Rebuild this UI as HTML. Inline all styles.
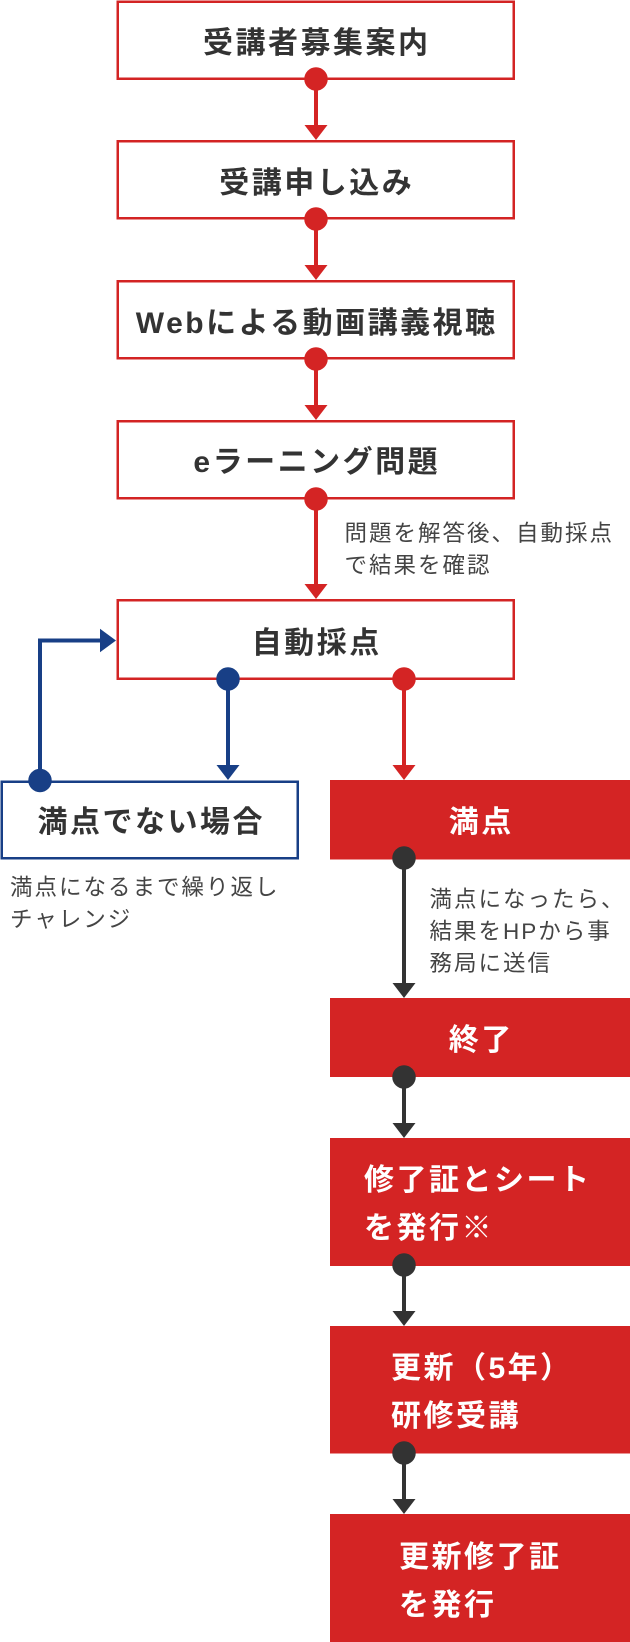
<!DOCTYPE html>
<html><head><meta charset="utf-8">
<style>
html,body{margin:0;padding:0;background:#fff;}
body{width:630px;height:1642px;position:relative;overflow:hidden;font-family:"Liberation Sans","Noto Sans CJK JP",sans-serif;}
svg{position:absolute;left:0;top:0;}
.t{position:absolute;white-space:nowrap;}
.m{font-size:30px;font-weight:700;color:#333;letter-spacing:2.5px;line-height:40px;text-align:center;}
.m span{margin-right:-2.5px;}
.w{color:#fff;}
.ml{font-size:30px;font-weight:700;color:#fff;letter-spacing:2.5px;line-height:48px;}
.s{font-size:22.5px;font-weight:400;color:#444;letter-spacing:2px;line-height:32px;}
.thin{font-weight:400;}
</style></head>
<body>
<svg width="630" height="1642" viewBox="0 0 630 1642" xmlns="http://www.w3.org/2000/svg">
  <g fill="#fff" stroke="#d32424" stroke-width="2.5">
    <rect x="117.75" y="1.75" width="396" height="77"/>
    <rect x="117.75" y="141.25" width="396" height="77"/>
    <rect x="117.75" y="281.25" width="396" height="77"/>
    <rect x="117.75" y="421.25" width="396" height="77"/>
    <rect x="117.75" y="600.25" width="396" height="78.5"/>
  </g>
  <rect x="1.75" y="781.75" width="296" height="76.5" fill="#fff" stroke="#183f86" stroke-width="2.5"/>
  <g fill="#d42424">
    <rect x="330" y="780" width="300" height="79.5"/>
    <rect x="330" y="998" width="300" height="79"/>
    <rect x="330" y="1138" width="300" height="128"/>
    <rect x="330" y="1326" width="300" height="127.5"/>
    <rect x="330" y="1514" width="300" height="128"/>
  </g>
  <g stroke="#d42424" stroke-width="4" fill="none">
    <line x1="316" y1="79" x2="316" y2="126"/>
    <line x1="316" y1="219" x2="316" y2="266"/>
    <line x1="316" y1="359" x2="316" y2="406"/>
    <line x1="316" y1="499" x2="316" y2="585"/>
    <line x1="404" y1="679" x2="404" y2="766"/>
  </g>
  <g fill="#d42424">
    <circle cx="316" cy="79" r="11.75"/>
    <circle cx="316" cy="219" r="11.75"/>
    <circle cx="316" cy="359" r="11.75"/>
    <circle cx="316" cy="499" r="11.75"/>
    <circle cx="404" cy="679" r="11.75"/>
    <polygon points="304.5,125 327.5,125 316,140"/>
    <polygon points="304.5,265 327.5,265 316,280"/>
    <polygon points="304.5,405 327.5,405 316,420"/>
    <polygon points="304.5,584 327.5,584 316,599"/>
    <polygon points="392.5,765 415.5,765 404,780"/>
  </g>
  <g stroke="#183f86" stroke-width="4" fill="none">
    <line x1="228" y1="679" x2="228" y2="766"/>
    <polyline points="40,780.5 40,640.5 101,640.5" stroke-linejoin="miter"/>
  </g>
  <g fill="#183f86">
    <circle cx="228" cy="679" r="11.75"/>
    <circle cx="40" cy="780.5" r="11.75"/>
    <polygon points="216.5,765 239.5,765 228,780"/>
    <polygon points="100,628.8 100,652.2 116,640.5"/>
  </g>
  <g stroke="#333" stroke-width="4" fill="none">
    <line x1="404" y1="858" x2="404" y2="984"/>
    <line x1="404" y1="1077" x2="404" y2="1124"/>
    <line x1="404" y1="1265" x2="404" y2="1312"/>
    <line x1="404" y1="1453" x2="404" y2="1500"/>
  </g>
  <g fill="#333">
    <circle cx="404" cy="858" r="11.75"/>
    <circle cx="404" cy="1077" r="11.75"/>
    <circle cx="404" cy="1265" r="11.75"/>
    <circle cx="404" cy="1453" r="11.75"/>
    <polygon points="392.5,983 415.5,983 404,998"/>
    <polygon points="392.5,1123 415.5,1123 404,1138"/>
    <polygon points="392.5,1311 415.5,1311 404,1326"/>
    <polygon points="392.5,1499 415.5,1499 404,1514"/>
  </g>
</svg>

<div class="t m" style="left:116px;width:399px;top:24px;"><span>受講者募集案内</span></div>
<div class="t m" style="left:116px;width:399px;top:163.5px;"><span>受講申し込み</span></div>
<div class="t m" style="left:116px;width:399px;top:303.8px;"><span>Webによる動画講義視聴</span></div>
<div class="t m" style="left:116px;width:399px;top:442.7px;"><span>eラーニング問題</span></div>
<div class="t m" style="left:116px;width:399px;top:623.5px;"><span>自動採点</span></div>

<div class="t m" style="left:0px;width:300px;top:803px;"><span>満点でない場合</span></div>
<div class="t m w" style="left:330px;width:300px;top:803px;"><span>満点</span></div>
<div class="t m w" style="left:330px;width:300px;top:1021px;"><span>終了</span></div>

<div class="t ml" style="left:364px;top:1157px;">修了証とシート<br>を発行<span class="thin">※</span></div>
<div class="t ml" style="left:391px;top:1345px;">更新（5年）<br>研修受講</div>
<div class="t ml" style="left:399px;top:1533.5px;">更新修了証<br>を発行</div>

<div class="t s" style="left:344.5px;top:518px;">問題を解答後、自動採点<br>で結果を確認</div>
<div class="t s" style="left:10px;top:871.5px;">満点になるまで繰り返し<br>チャレンジ</div>
<div class="t s" style="left:429.5px;top:884px;">満点になったら、<br>結果をHPから事<br>務局に送信</div>
</body></html>
